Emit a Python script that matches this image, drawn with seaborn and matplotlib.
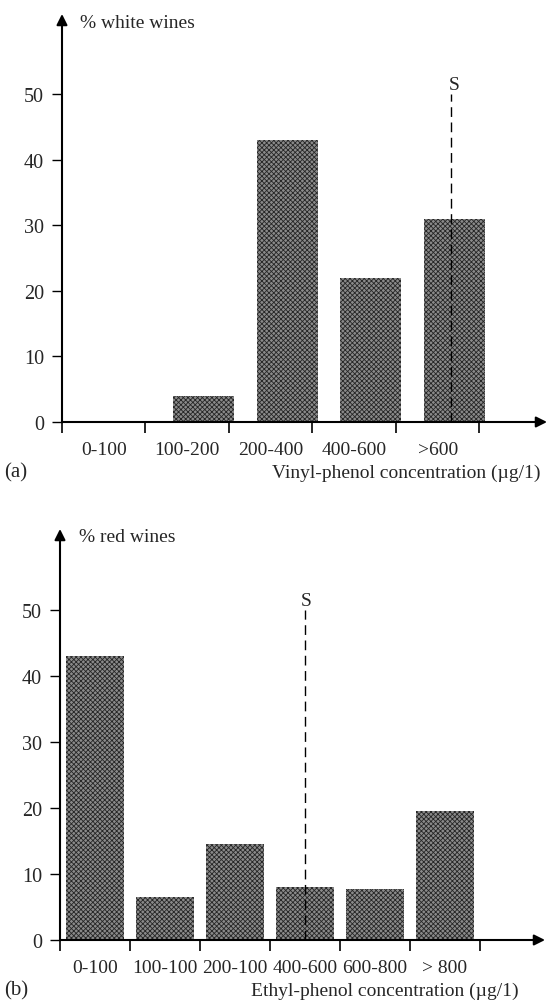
import matplotlib
matplotlib.use("Agg")
import matplotlib.pyplot as plt
import seaborn as sns
import numpy as np

# Panel (a): white wines, vinyl-phenol classes
white_cats = ["0-100", "100-200", "200-400", "400-600", ">600"]
white_pct = [0, 4, 43, 22, 31]
white_xlabel = "Vinyl-phenol concentration (\u00b5g/1)"
white_ylabel = "% white wines"

# Panel (b): red wines, ethyl-phenol classes
red_cats = ["0-100", "100-100", "200-100", "400-600", "600-800", "> 800"]
red_pct = [43, 6.5, 14.5, 8, 7.8, 19.5]
red_xlabel = "Ethyl-phenol concentration (\u00b5g/1)"
red_ylabel = "% red wines"

yticks = [0, 10, 20, 30, 40, 50]

sns.set_theme(style="white")
plt.rcParams["font.family"] = ["Liberation Serif", "DejaVu Serif"]
plt.rcParams["hatch.linewidth"] = 0.6

W, H = 547, 1003
fig = plt.figure(figsize=(W / 100, H / 100), dpi=100)


def px_axes(x0, x1, y_top, y_bot):
    return fig.add_axes([x0 / W, 1 - y_bot / H, (x1 - x0) / W, (y_bot - y_top) / H])


def draw_panel(ax, cats, vals, xlo, xhi, ytop, shift, width, s_pos, ylabel, xlabel, tag,
               ylab_xy, xlab_xy, tag_xy, s_xy):
    sns.barplot(x=cats, y=vals, ax=ax, color="#8a8a8a", width=width, hatch="xxxxxxx",
                edgecolor="#262626", linewidth=0, saturation=1)
    ax.set_xlim(xlo, xhi)
    ax.set_ylim(0, ytop)
    for sp in ax.spines.values():
        sp.set_visible(False)
    n = len(cats)
    bounds = [i - 0.5 - shift for i in range(n + 1)]
    centers = [i - shift for i in range(n)]
    ax.set_xticks(bounds)
    ax.set_xticklabels([""] * len(bounds))
    ax.set_xticks(centers, minor=True)
    ax.set_xticklabels(cats, minor=True, fontsize=14)
    ax.tick_params(axis="x", which="major", direction="out", length=8, width=1.2,
                   color="black", bottom=True)
    ax.tick_params(axis="x", which="minor", length=0, pad=14)
    ax.set_yticks(yticks)
    ax.set_yticklabels([str(t) for t in yticks], fontsize=14.5)
    ax.tick_params(axis="y", direction="out", length=7, width=1, color="black",
                   left=True, pad=6)
    ax.set_xlabel("")
    ax.set_ylabel("")
    # axis arrows
    arrow = dict(arrowstyle="-|>", lw=1.5, color="black", mutation_scale=16,
                 shrinkA=0, shrinkB=0)
    ax.annotate("", xy=(xhi, 0), xytext=(xlo, 0), arrowprops=arrow, annotation_clip=False)
    ax.annotate("", xy=(xlo, ytop), xytext=(xlo, 0), arrowprops=arrow, annotation_clip=False)
    # threshold S
    ax.plot([s_pos, s_pos], [0, 50], color="black", lw=1, ls=(0, (7, 4)))
    fig.text(s_xy[0] / W, 1 - s_xy[1] / H, "S", fontsize=14, ha="center", va="center")
    fig.text(ylab_xy[0] / W, 1 - ylab_xy[1] / H, ylabel, fontsize=14, ha="left", va="center")
    fig.text(xlab_xy[0] / W, 1 - xlab_xy[1] / H, xlabel, fontsize=14, ha="right", va="center")
    fig.text(tag_xy[0] / W, 1 - tag_xy[1] / H, tag, fontsize=15, ha="left", va="center")


ax_a = px_axes(62, 547, 15, 423)
draw_panel(ax_a, white_cats, white_pct, -0.7, 5.11, 62.2, 0.2, 0.73, 4.0 - 0.04,
           white_ylabel, white_xlabel, "(a)",
           (80, 23), (541, 473), (4, 473), (454, 86))

ax_b = px_axes(60, 545, 530, 941)
draw_panel(ax_b, red_cats, red_pct, -0.5, 6.43, 62.3, 0.0, 0.83, 3.0,
           red_ylabel, red_xlabel, "(b)",
           (79, 538), (519, 991), (4, 991), (306, 601))

fig.savefig("out.png", dpi=100)
